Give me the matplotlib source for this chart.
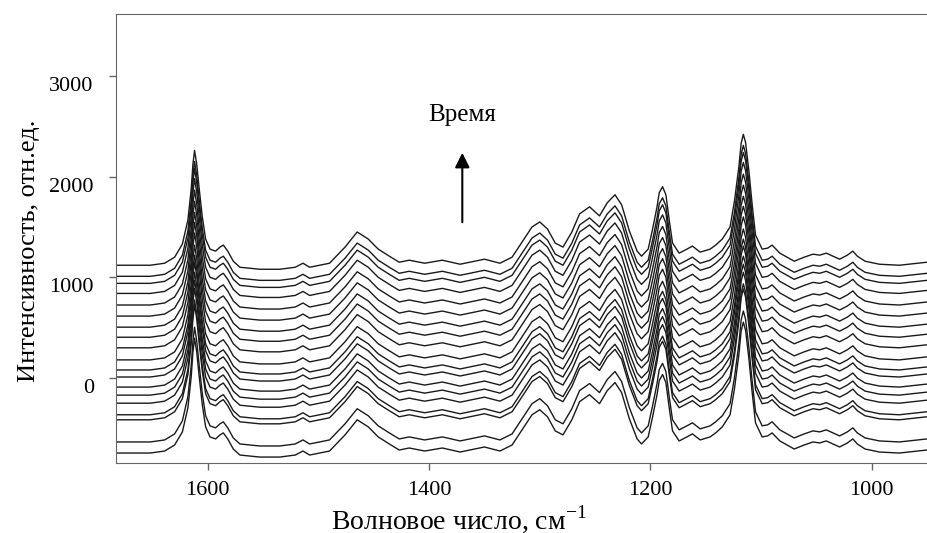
import matplotlib
matplotlib.use('Agg')
import numpy as np
import matplotlib.pyplot as plt
from matplotlib.transforms import ScaledTranslation

plt.rcParams['font.family'] = ['Liberation Serif', 'DejaVu Serif']
plt.rcParams['mathtext.fontset'] = 'custom'
plt.rcParams['mathtext.rm'] = 'Liberation Serif'

# spectrum shape (height above its baseline)
wavenumber = [1683, 1652, 1639, 1630, 1623, 1618, 1615, 1613.5, 1612, 1610,
              1608, 1605, 1602, 1598, 1593, 1589, 1586, 1582, 1577, 1571,
              1553, 1535, 1521, 1514, 1508, 1490, 1476, 1465, 1455, 1446,
              1436, 1427, 1418, 1404, 1388, 1372, 1350, 1336, 1325, 1316,
              1307, 1300, 1293, 1286, 1279, 1271, 1264, 1255, 1246, 1239,
              1232, 1226, 1219, 1212, 1208, 1202, 1198, 1194, 1192, 1189,
              1186, 1183, 1180, 1174, 1167, 1162, 1155, 1146, 1141, 1135,
              1128, 1124, 1120, 1118, 1116, 1114, 1111, 1108, 1105, 1099,
              1094, 1090, 1083, 1070, 1061, 1053, 1047, 1041, 1029, 1022,
              1017, 1013, 1006, 993, 975, 950]
shape = [0, 0, 20, 80, 210, 450, 760, 1000, 1140, 1000,
         780, 480, 260, 160, 140, 180, 200, 140, 40, -20,
         -40, -40, -20, 20, -20, 20, 180, 330, 260, 160,
         90, 30, 50, 20, 50, 10, 60, 20, 80, 230,
         380, 430, 360, 220, 180, 330, 510, 580, 490, 620,
         700, 600, 340, 140, 90, 160, 360, 580, 720, 780,
         700, 450, 220, 120, 160, 190, 130, 160, 200, 260,
         380, 640, 980, 1210, 1300, 1220, 940, 600, 300, 160,
         170, 200, 120, 40, 80, 110, 100, 120, 60, 100,
         140, 90, 40, 10, 0, 30]

# baseline of every spectrum, from latest (top) to earliest (bottom)
offsets = [1120, 1010, 940, 840, 725, 615, 505, 405, 300, 180,
           80, 10, -90, -170, -250, -365, -415, -635, -745]

yticks = [0, 1000, 2000, 3000]
xticks = [1600, 1400, 1200, 1000]

fig = plt.figure(figsize=(9.27, 5.33), dpi=100)
ax = fig.add_axes([116 / 927, 1 - 463 / 533, 811 / 927, 449 / 533])

wn = np.array(wavenumber)
sh = np.array(shape)
for off in offsets[::-1]:
    ax.plot(wn, sh + off, color='#1a1a1a', lw=1.0)

ax.set_xlim(1683, 950)
ax.set_ylim(-844, 3615)
ax.set_xticks(xticks)
ax.set_yticks(yticks)
ax.tick_params(axis='both', direction='out', length=5, width=1, color='#666666',
               labelsize=16, pad=8)
ax.tick_params(axis='y', pad=11)
for sp in ax.spines.values():
    sp.set_color('#666666')
ax.spines['right'].set_visible(False)

# the y labels sit a little below their ticks in the original
for lab in ax.get_yticklabels():
    lab.set_transform(lab.get_transform() + ScaledTranslation(0, -0.08, fig.dpi_scale_trans))

ax.set_xlabel('Волновое число, см$^{-1}$', fontsize=20)
ax.xaxis.set_label_coords(0.423, -0.089)
ax.set_ylabel('Интенсивность, отн.ед.', fontsize=19)
ax.yaxis.set_label_coords(-0.094, 0.472)

ax.text(1370, 2612, 'Время', fontsize=18, ha='center', va='center')
ax.annotate('', xy=(1370, 2264), xytext=(1370, 1519),
            arrowprops=dict(arrowstyle='-|>', color='black', lw=1.5, mutation_scale=22))

fig.savefig('out.png', dpi=100)
